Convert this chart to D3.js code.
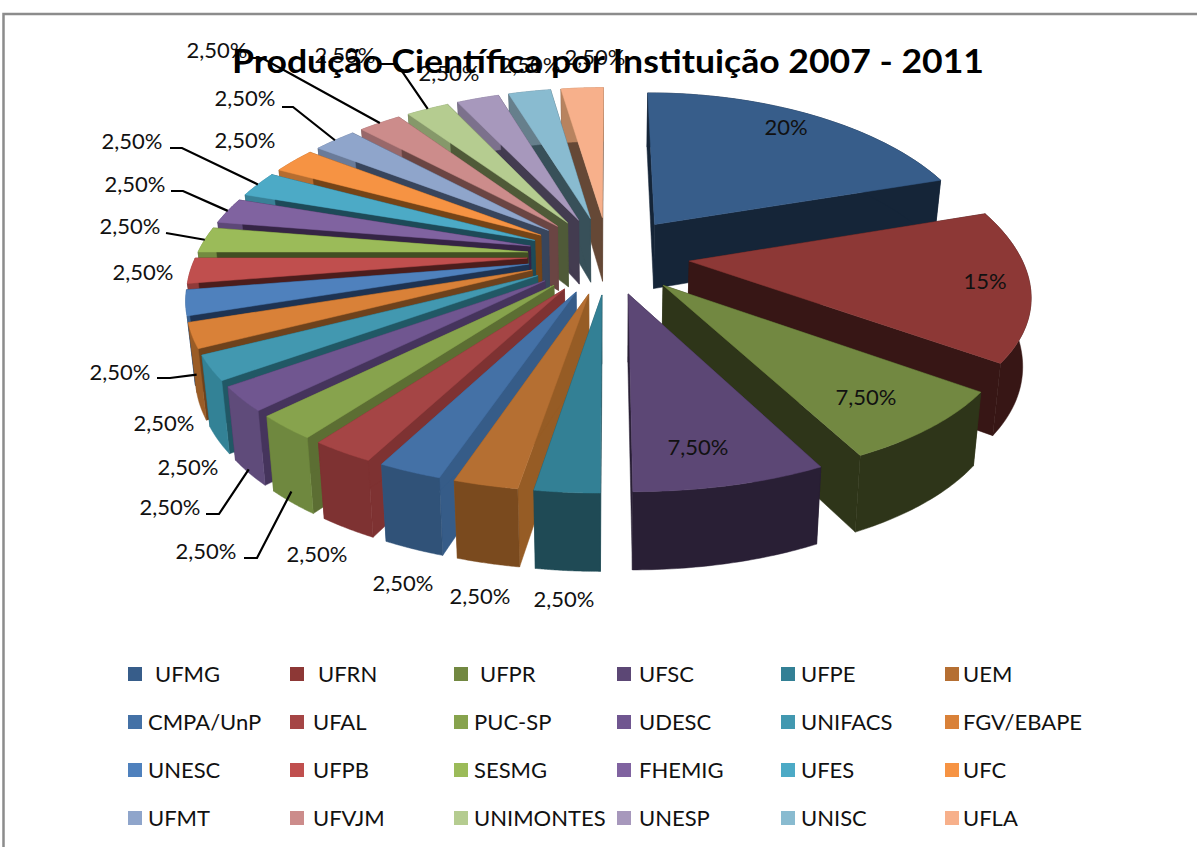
<!DOCTYPE html>
<html><head><meta charset="utf-8">
<script src="https://cdn.jsdelivr.net/npm/d3@7"></script>
<style>html,body{margin:0;padding:0;background:#fff}svg{display:block}text{font-family:Lato,"Open Sans",sans-serif;fill:#111}</style>
</head><body><svg id="c" width="1197" height="847"></svg>
<script>
const chartTitle = "Produção Científica por Instituição 2007 - 2011";
const institutions = ["UFMG","UFRN","UFPR","UFSC","UFPE","UEM","CMPA/UnP","UFAL","PUC-SP","UDESC","UNIFACS","FGV/EBAPE","UNESC","UFPB","SESMG","FHEMIG","UFES","UFC","UFMT","UFVJM","UNIMONTES","UNESP","UNISC","UFLA"];
const shares = [20,15,7.5,7.5,2.5,2.5,2.5,2.5,2.5,2.5,2.5,2.5,2.5,2.5,2.5,2.5,2.5,2.5,2.5,2.5,2.5,2.5,2.5,2.5];
const shareLabels = ["20%","15%","7,50%","7,50%"].concat(d3.range(20).map(()=>"2,50%"));

const topColors = ["#375D8A","#8D3836","#728841","#5C4775","#338095","#B56F32","#4471A6","#A54545","#87A34D","#705690","#4298B0","#D98138","#4F81BD","#C04F4E","#9BBB59","#8063A0","#4CAAC6","#F69343","#8FA5CB","#CC8C8B","#B5CC90","#A798BC","#89BBD0","#F7B08B"];
const outerColors = ["#152538","#371615","#2E3519","#291F35","#1F4A55","#7A4A1E","#305278","#7E3232","#6F883F","#5F4B7A","#338296","#9A5C26","#38608F","#8F3A39","#728B40","#5D4877","#388096","#B66D30","#6A7B99","#98686A","#86986A","#7C718C","#667F8C","#B8835F"];
const wallColors = ["#152538","#371615","#2E3519","#291F35","#1F4A55","#965C25","#365C88","#7E3232","#5C6E33","#45345C","#215865","#6E421C","#1E3352","#4C1D1C","#414F23","#352445","#1D4A58","#754417","#38455C","#6A4543","#4F5A38","#433C50","#385059","#654836"];

// Label layout, in slice order: text centre, optional leader start points, leader end on the wall (0 top edge, 1 bottom edge)
const labelLayout = [
 {x:786,y:127},{x:985,y:281},{x:866,y:397},{x:698,y:447},
 {x:564,y:599},{x:480,y:596},{x:403,y:583},{x:317,y:554},
 {x:206,y:551,leader:[[244,558],[257,558]],wall:.85},
 {x:170,y:507,leader:[[206,514],[219,514]],wall:.95},
 {x:188,y:467},
 {x:120,y:372,leader:[[157,378],[170,378]],wall:.55},
 {x:164,y:423},{x:143,y:272},
 {x:130,y:226,leader:[[166,233]],wall:0},
 {x:135,y:184,leader:[[171,191],[183,191]],wall:0},
 {x:132,y:141,leader:[[170,148],[182,148]],wall:0},
 {x:245,y:140},
 {x:245,y:98,leader:[[282,107],[293,107]],wall:0},
 {x:217,y:50,leader:[[252,58],[262,58]],wall:0},
 {x:345,y:55,leader:[[380,64],[397,64]],wall:0},
 {x:449,y:73},{x:530,y:65},{x:595,y:57}
];

const legendColX = [128,290,454,617,781,945];
const legendRowY = [674,722,770,818];
const legendTextX = [[155,318,480,639,801,963],[148,313,474,639,801,963],[148,313,474,639,801,963],[148,313,474,639,801,963]];

const svg = d3.select("#c");
svg.append("path").attr("d","M3.5,847V14H1197").attr("fill","none").attr("stroke","#8c8c8c").attr("stroke-width",2.5);

// 3D projection of the pie
const cx=608.5, cy=255, A=331, B=158, persp=.14, perspX=.18, explode=.245, H=66, q=.15, shrink=.98;
const arcs = d3.pie().sort(null).value(d=>d).startAngle(0).endAngle(2*Math.PI)(shares);
const uv=(a,r,m)=>[explode*Math.sin(m)+r*Math.sin(a), explode*Math.cos(m)+r*Math.cos(a)];
function proj(a,r,m,z){
  const [u,v]=uv(a,r,m);
  let x=cx+A*u/(1+perspX*v), y=cy-B*v/(1+persp*v);
  if(z>0){ x=cx+(x-cx)*(1-(1-shrink)*z); y+=z*H*(1-q*v); }
  return [x,y];
}
const line=d3.line();
const root=svg.append("g");
const order=d3.range(arcs.length).sort((i,j)=>{
  const mi=(arcs[i].startAngle+arcs[i].endAngle)/2, mj=(arcs[j].startAngle+arcs[j].endAngle)/2;
  return Math.cos(mj)-Math.cos(mi);
});
order.forEach(i=>{
  const d=arcs[i], a0=d.startAngle, a1=d.endAngle, m=(a0+a1)/2;
  const samples=d3.range(0,41).map(k=>a0+(a1-a0)*k/40);
  const outerTop=samples.map(a=>proj(a,1,m,0));
  const outerBot=samples.map(a=>proj(a,1,m,1));
  const apexT=proj(m,0,m,0), apexB=proj(m,0,m,1);
  const g=root.append("g");
  [a0,a1].forEach(a=>{
    g.append("path").attr("d",line([apexT,proj(a,1,m,0),proj(a,1,m,1),apexB])+"Z").attr("fill",wallColors[i]).attr("stroke",wallColors[i]).attr("stroke-width",.5);
  });
  g.append("path").attr("d",line(outerTop.concat(outerBot.slice().reverse()))+"Z").attr("fill",outerColors[i]).attr("stroke",outerColors[i]).attr("stroke-width",.5);
  g.append("path").attr("d",line([apexT].concat(outerTop))+"Z").attr("fill",topColors[i]).attr("stroke",topColors[i]).attr("stroke-width",.5);
});

// Leaders and value labels
labelLayout.forEach((p,i)=>{
  if(p.leader){
    const m=(arcs[i].startAngle+arcs[i].endAngle)/2;
    svg.append("path").attr("d",line(p.leader.concat([proj(m,1,m,p.wall)]))).attr("fill","none").attr("stroke","#000").attr("stroke-width",2.2);
  }
  svg.append("text").attr("x",p.x).attr("y",p.y+8).attr("text-anchor","middle").attr("font-size",22).text(shareLabels[i]);
});

svg.append("text").attr("x",608).attr("y",73).attr("text-anchor","middle").attr("font-size",33).attr("font-weight",700)
  .attr("textLength",752).attr("lengthAdjust","spacingAndGlyphs").style("fill","#000").text(chartTitle);

// Legend
institutions.forEach((n,i)=>{
  const c=i%6, r=Math.floor(i/6);
  svg.append("rect").attr("x",legendColX[c]).attr("y",legendRowY[r]-7).attr("width",14).attr("height",14).attr("fill",topColors[i]);
  svg.append("text").attr("x",legendTextX[r][c]).attr("y",legendRowY[r]+8).attr("font-size",22).text(n);
});
</script></body></html>
